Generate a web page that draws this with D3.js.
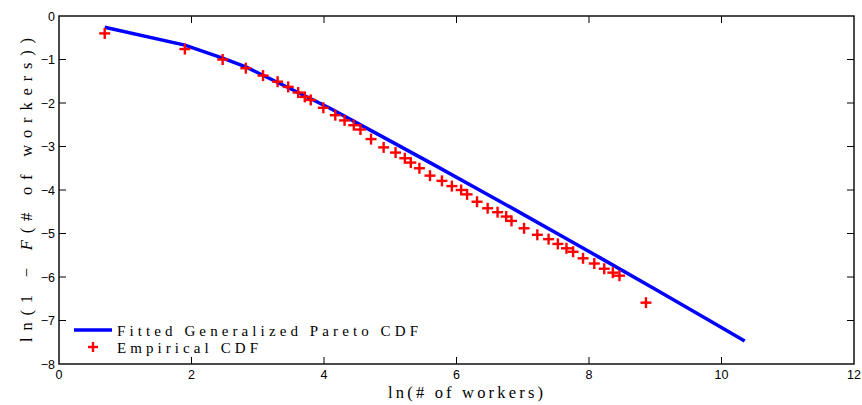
<!DOCTYPE html>
<html>
<head>
<meta charset="utf-8">
<script src="https://cdn.jsdelivr.net/npm/d3@7"></script>
<style>
  body { margin: 0; background: #fff; }
  svg { display: block; }
  .tick-label { font-family: "Liberation Sans", Arial, sans-serif; font-size: 12.5px; fill: #000; }
</style>
</head>
<body>
<svg id="chart" width="862" height="405"></svg>
<script>
// empirical points: ln(# of workers), ln(1 - F)
const empX = [0.69, 1.90, 2.47, 2.82, 3.08, 3.30, 3.46, 3.61, 3.71, 3.80,
              3.99, 4.17, 4.31, 4.45, 4.55, 4.71, 4.90, 5.08, 5.22, 5.31,
              5.44, 5.60, 5.78, 5.93, 6.07, 6.16, 6.31, 6.47, 6.62, 6.75,
              6.83, 7.02, 7.22, 7.39, 7.53, 7.66, 7.76, 7.91, 8.08, 8.23,
              8.36, 8.46, 8.86];
const empY = [-0.40, -0.76, -1.00, -1.20, -1.37, -1.51, -1.63, -1.76, -1.86, -1.93,
              -2.11, -2.28, -2.40, -2.51, -2.61, -2.83, -3.02, -3.14, -3.27, -3.37,
              -3.50, -3.67, -3.79, -3.91, -4.00, -4.10, -4.27, -4.42, -4.51, -4.61,
              -4.71, -4.88, -5.03, -5.13, -5.24, -5.34, -5.42, -5.57, -5.69, -5.81,
              -5.90, -5.97, -6.59];

// fitted generalized Pareto curve
const fitX = [0.69, 1.90, 2.47, 2.82, 3.41, 4.09, 4.90, 5.60, 6.36, 6.96, 7.66, 8.17, 9.02, 9.83, 10.35];
const fitY = [-0.26, -0.67, -0.97, -1.17, -1.61, -2.12, -2.79, -3.37, -4.01, -4.52, -5.12, -5.56, -6.30, -7.01, -7.47];

const xTicks = [0, 2, 4, 6, 8, 10, 12];
const yTicks = [0, -1, -2, -3, -4, -5, -6, -7, -8];

const legendLabels = ["Fitted Generalized Pareto CDF", "Empirical CDF"];

const serifFont = "'Liberation Serif', 'DejaVu Serif', serif";

const svg = d3.select("#chart");

const x = d3.scaleLinear().domain([0, 12]).range([59, 854]);
const y = d3.scaleLinear().domain([-8, 0]).range([364, 16]);

const tickLen = 7;
const fmt = d3.format("d");

// ticks (inside, on all four sides)
const ticks = svg.append("g").attr("stroke", "#000").attr("stroke-width", 1);
xTicks.slice(1, -1).forEach(t => {
  ticks.append("line").attr("x1", x(t)).attr("x2", x(t)).attr("y1", y(-8)).attr("y2", y(-8) - tickLen);
  ticks.append("line").attr("x1", x(t)).attr("x2", x(t)).attr("y1", y(0)).attr("y2", y(0) + tickLen);
});
yTicks.slice(1, -1).forEach(t => {
  ticks.append("line").attr("x1", x(0)).attr("x2", x(0) + tickLen).attr("y1", y(t)).attr("y2", y(t));
  ticks.append("line").attr("x1", x(12)).attr("x2", x(12) - tickLen).attr("y1", y(t)).attr("y2", y(t));
});

// frame
svg.append("rect")
    .attr("x", x(0)).attr("y", y(0))
    .attr("width", x(12) - x(0)).attr("height", y(-8) - y(0))
    .attr("fill", "none").attr("stroke", "#111").attr("stroke-width", 1.5);

// tick labels
svg.append("g").selectAll("text").data(xTicks).join("text")
    .attr("class", "tick-label")
    .attr("x", d => x(d)).attr("y", 379)
    .attr("text-anchor", "middle")
    .text(d => fmt(d));

svg.append("g").selectAll("text").data(yTicks).join("text")
    .attr("class", "tick-label")
    .attr("x", 55).attr("y", d => y(d)).attr("dy", "0.36em")
    .attr("text-anchor", "end")
    .text(d => fmt(d));

// fitted line
const fitData = fitX.map((v, i) => [v, fitY[i]]);
svg.append("path")
    .datum(fitData)
    .attr("fill", "none")
    .attr("stroke", "#0000ff")
    .attr("stroke-width", 3.5)
    .attr("stroke-linejoin", "round")
    .attr("d", d3.line().x(d => x(d[0])).y(d => y(d[1])));

// empirical markers
const plus = (g, cx, cy, r) => {
  g.append("line").attr("x1", cx - r).attr("x2", cx + r).attr("y1", cy).attr("y2", cy);
  g.append("line").attr("x1", cx).attr("x2", cx).attr("y1", cy - r).attr("y2", cy + r);
};
const marks = svg.append("g").attr("stroke", "#ff0000").attr("stroke-width", 2.4);
empX.forEach((v, i) => plus(marks, x(v), y(empY[i]), 5.5));

// legend
svg.append("line")
    .attr("x1", 74).attr("x2", 112).attr("y1", 330).attr("y2", 330)
    .attr("stroke", "#0000ff").attr("stroke-width", 3.5);
plus(svg.append("g").attr("stroke", "#ff0000").attr("stroke-width", 2.4), 93, 347, 5);

const serifText = (px, py, len, size) => svg.append("text")
    .attr("font-family", serifFont)
    .attr("font-size", size)
    .attr("fill", "#000")
    .attr("x", px).attr("y", py)
    .attr("textLength", len).attr("lengthAdjust", "spacing");

serifText(117, 335.5, 301, 15).text(legendLabels[0]);
serifText(117, 352.5, 141, 15).text(legendLabels[1]);

// axis labels
serifText(388, 398, 155, 16.5).text("ln(# of workers)");

const yl = svg.append("text")
    .attr("font-family", serifFont)
    .attr("font-size", 16.5)
    .attr("fill", "#000")
    .attr("transform", "translate(32,342) rotate(-90)")
    .attr("textLength", 304).attr("lengthAdjust", "spacing");
yl.append("tspan").text("ln(1 − ");
yl.append("tspan").attr("font-style", "italic").text("F");
yl.append("tspan").text("(# of workers))");
</script>
</body>
</html>
